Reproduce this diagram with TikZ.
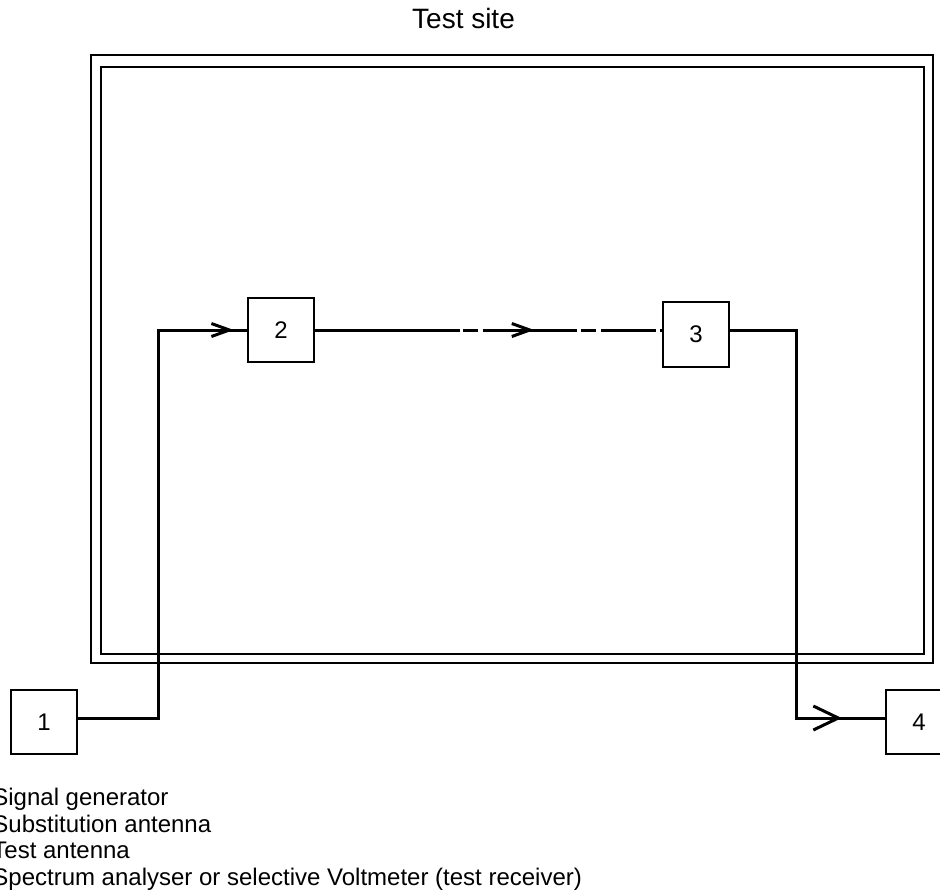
\documentclass[tikz,border=0pt]{standalone}
\usepackage{fontspec}
\setmainfont{Liberation Sans}
\usetikzlibrary{positioning, arrows.meta, decorations.markings}

\begin{document}
\begin{tikzpicture}[
    x=0.5pt, y=-0.5pt,
    % Node styles
    unit/.style={
        rectangle,
        draw=black,
        line width=1.2pt,
        minimum width=33pt,
        minimum height=32pt,
        inner sep=0pt,
        font=\fontsize{12}{14}\selectfont
    },
    frame/.style={
        draw=black,
        line width=1pt
    },
    link/.style={
        draw=black,
        line width=1.5pt
    },
    legend/.style={
        anchor=base west,
        inner sep=0pt,
        font=\fontsize{12}{14}\selectfont
    },
    % Arrow tips
    smalltip/.tip={Straight Barb[length=9pt, width=6.5pt]},
    bigtip/.tip={Straight Barb[length=12.5pt, width=12pt]},
    midarrow/.style 2 args={
        postaction={decorate},
        decoration={markings, mark=at position #1 with {\arrow{#2}}}
    }
]

\useasboundingbox (0,0) rectangle (940,890);

% Title
\node[anchor=base, inner sep=0pt, font=\fontsize{14}{16}\selectfont] (title) at (463.5,28) {Test site};

% Test site walls
\draw[frame] (90.5,55) rectangle (933,663);
\draw[frame] (100.5,66.5) rectangle (924,654);

% Units
\node[unit] (gen) at (44,722) {1};
\node[unit] (sub) at (281,330) {2};
\node[unit, minimum height=32.5pt] (tst) at (696,334.5) {3};
\node[unit] (rcv) at (919,722) {4};

% Generator to substitution antenna
\draw[link, midarrow={-6.5pt}{smalltip}]
    ([yshift=2pt]gen.east) -| ([xshift=-44pt]sub.west) -- (sub.west);

% Radiated path
\draw[link, midarrow={109.5pt}{smalltip},
      dash pattern=on 72.15pt off 1.7pt on 7.5pt off 2.5pt on 47.15pt off 2pt on 7.5pt off 2.5pt on 27.5pt off 1.65pt on 2.35pt]
    (sub.east) -- (sub.east -| tst.west);

% Test antenna to receiver
\draw[link, midarrow={-21.5pt}{bigtip}]
    (tst.east |- sub.east) -| ([xshift=-44pt, yshift=2pt]rcv.west) -- ([yshift=2pt]rcv.west);

% Legend
\foreach \yy/\txt [count=\i] in {805/Signal generator, 832/Substitution antenna, 858/Test antenna, 885/Spectrum analyser or selective Voltmeter (test receiver)} {
    \node[legend] (leg\i) at (-8,\yy) {\txt};
}

\end{tikzpicture}
\end{document}
